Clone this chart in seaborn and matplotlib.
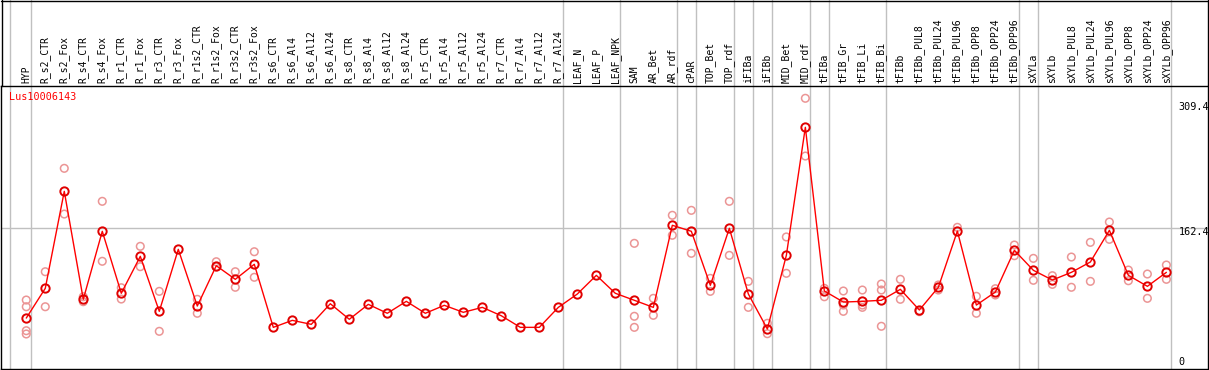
import matplotlib
matplotlib.use("Agg")
import matplotlib.pyplot as plt
import seaborn as sns
import numpy as np
import pandas as pd
from matplotlib.lines import Line2D

samples = [
    "HYP", "R_s2_CTR", "R_s2_Fox", "R_s4_CTR", "R_s4_Fox", "R_r1_CTR", "R_r1_Fox",
    "R_r3_CTR", "R_r3_Fox", "R_r1s2_CTR", "R_r1s2_Fox", "R_r3s2_CTR", "R_r3s2_Fox",
    "R_s6_CTR", "R_s6_Al4", "R_s6_Al12", "R_s6_Al24", "R_s8_CTR", "R_s8_Al4",
    "R_s8_Al12", "R_s8_Al24", "R_r5_CTR", "R_r5_Al4", "R_r5_Al12", "R_r5_Al24",
    "R_r7_CTR", "R_r7_Al4", "R_r7_Al12", "R_r7_Al24", "LEAF_N", "LEAF_P", "LEAF_NPK",
    "SAM", "AR_Bet", "AR_rdf", "cPAR", "TOP_Bet", "TOP_rdf", "iFIBa", "iFIBb",
    "MID_Bet", "MID_rdf", "tFIBa", "tFIB_Gr", "tFIB_Li", "tFIB_Bi", "tFIBb",
    "tFIBb_PUL8", "tFIBb_PUL24", "tFIBb_PUL96", "tFIBb_OPP8", "tFIBb_OPP24",
    "tFIBb_OPP96", "sXYLa", "sXYLb", "sXYLb_PUL8", "sXYLb_PUL24", "sXYLb_PUL96",
    "sXYLb_OPP8", "sXYLb_OPP24", "sXYLb_OPP96",
]

mean_expr = [
    60.9, 94.5, 204.2, 82.1, 159.0, 88.9, 130.7, 68.5, 138.6, 74.5, 120.1, 104.7, 121.7,
    50.4, 58.3, 53.8, 77.1, 59.5, 76.4, 66.3, 79.8, 66.3, 75.3, 67.4, 73.0,
    63.5, 50.4, 50.4, 73.0, 88.1, 109.2, 88.9,
    81.0, 73.0, 165.8, 159.0, 97.9, 162.4, 88.1, 48.5, 131.8, 276.6,
    91.5, 79.0, 79.8, 81.0, 93.4,
    70.0, 95.7, 159.3, 75.6, 90.3, 137.5,
    114.9, 103.9, 112.6, 124.3, 160.1, 109.2, 96.8, 112.6,
]

replicates = [
    [81.3, 73.7, 46.6, 42.9], [113.3, 73.7], [230.2, 178.5], [85.0, 79.4],
    [192.9, 125.1], [95.2, 82.4], [142.0, 119.0], [91.1, 45.9], [],
    [82.1, 66.3], [124.6, 119.0], [113.3, 95.7], [135.9, 107.0],
    [], [], [], [], [], [], [], [], [], [], [], [], [], [], [], [], [], [], [],
    [145.4, 62.9, 50.4], [83.2, 64.0], [177.1, 154.5], [182.7, 134.1],
    [105.8, 91.1], [192.9, 131.8], [102.4, 73.0], [55.0, 43.2],
    [152.6, 111.5], [309.4, 244.1],
    [94.5, 85.0], [91.5, 75.6, 68.5], [92.6, 73.0, 75.6], [99.4, 92.6, 51.6],
    [104.7, 82.1],
    [68.1], [98.3, 92.6], [163.5], [85.5, 66.3], [94.1, 87.0], [143.5, 131.4],
    [128.4, 103.6], [108.8, 99.0], [129.9, 95.7], [146.5, 102.4], [169.5, 149.9],
    [115.2, 103.1], [110.7, 83.2], [120.9, 104.7],
]

# vertical separators between sample groups
group_breaks = [-0.84, 0.23, 28.23, 31.23, 34.23, 35.23, 37.23, 38.23, 39.23,
                41.23, 42.23, 45.23, 52.23, 53.23, 60.23]

gene = "Lus10006143"
y_marks = ["309.4", "162.4", "0"]

sns.set_theme(style="white")
plt.rcParams["font.family"] = ["DejaVu Sans Mono", "DejaVu Sans"]

W, H = 1209, 370
fig = plt.figure(figsize=(W / 100, H / 100), dpi=100)
ax = fig.add_axes([1 / W, 1 / H, 1207 / W, 283 / H])

pos = np.arange(len(samples))
means_df = pd.DataFrame({"pos": pos, "expr": mean_expr})
rep_x, rep_y = [], []
for i, vals in enumerate(replicates):
    for v in vals:
        rep_x.append(i)
        rep_y.append(v)
reps_df = pd.DataFrame({"pos": rep_x, "expr": rep_y})

ax.axhline(162.4, color="#c0c0c0", lw=1, zorder=0)
top_frac = 369 / 283
for b in group_breaks:
    ax.axvline(b, ymin=0, ymax=top_frac, color="#c0c0c0", lw=1, zorder=0, clip_on=False)

sns.scatterplot(data=reps_df, x="pos", y="expr", ax=ax, s=30, marker="o",
                facecolors="none", edgecolor="#eb9595", linewidth=1.1, zorder=2)
sns.lineplot(data=means_df, x="pos", y="expr", ax=ax, color="red", lw=1,
             marker="o", markersize=6, markerfacecolor="none",
             markeredgecolor="#e00000", markeredgewidth=1.4, zorder=3)

ax.set_xlim(-1.33, 62.19)
ax.set_ylim(3.3, 323.3)
ax.set_xlabel("")
ax.set_ylabel("")
ax.set_yticks([])
ax.xaxis.tick_top()
ax.set_xticks(pos)
ax.set_xticklabels(samples, rotation=90, fontsize=7, color="black")
ax.tick_params(axis="x", length=0, pad=2.2)
for s in ax.spines.values():
    s.set_color("black")
    s.set_linewidth(1)

ax.text(0.0069, 0.960, gene, transform=ax.transAxes, color="red",
        fontsize=7.3, ha="left", va="center")
for lab, yf in zip(y_marks, [0.927, 0.485, 0.026]):
    ax.text(0.9757, yf, lab, transform=ax.transAxes, color="black",
            fontsize=7.3, ha="left", va="center")

# outer frame around the label area
fx = lambda px: px / W
fy = lambda py: 1 - py / H
fig.add_artist(Line2D([fx(1), fx(1208)], [fy(0.5), fy(0.5)], color="black", lw=1))
fig.add_artist(Line2D([fx(1.5), fx(1.5)], [fy(0), fy(86)], color="black", lw=1))
fig.add_artist(Line2D([fx(1207.5), fx(1207.5)], [fy(0), fy(86)], color="black", lw=1))

fig.savefig("out.png", dpi=100, facecolor="white")
